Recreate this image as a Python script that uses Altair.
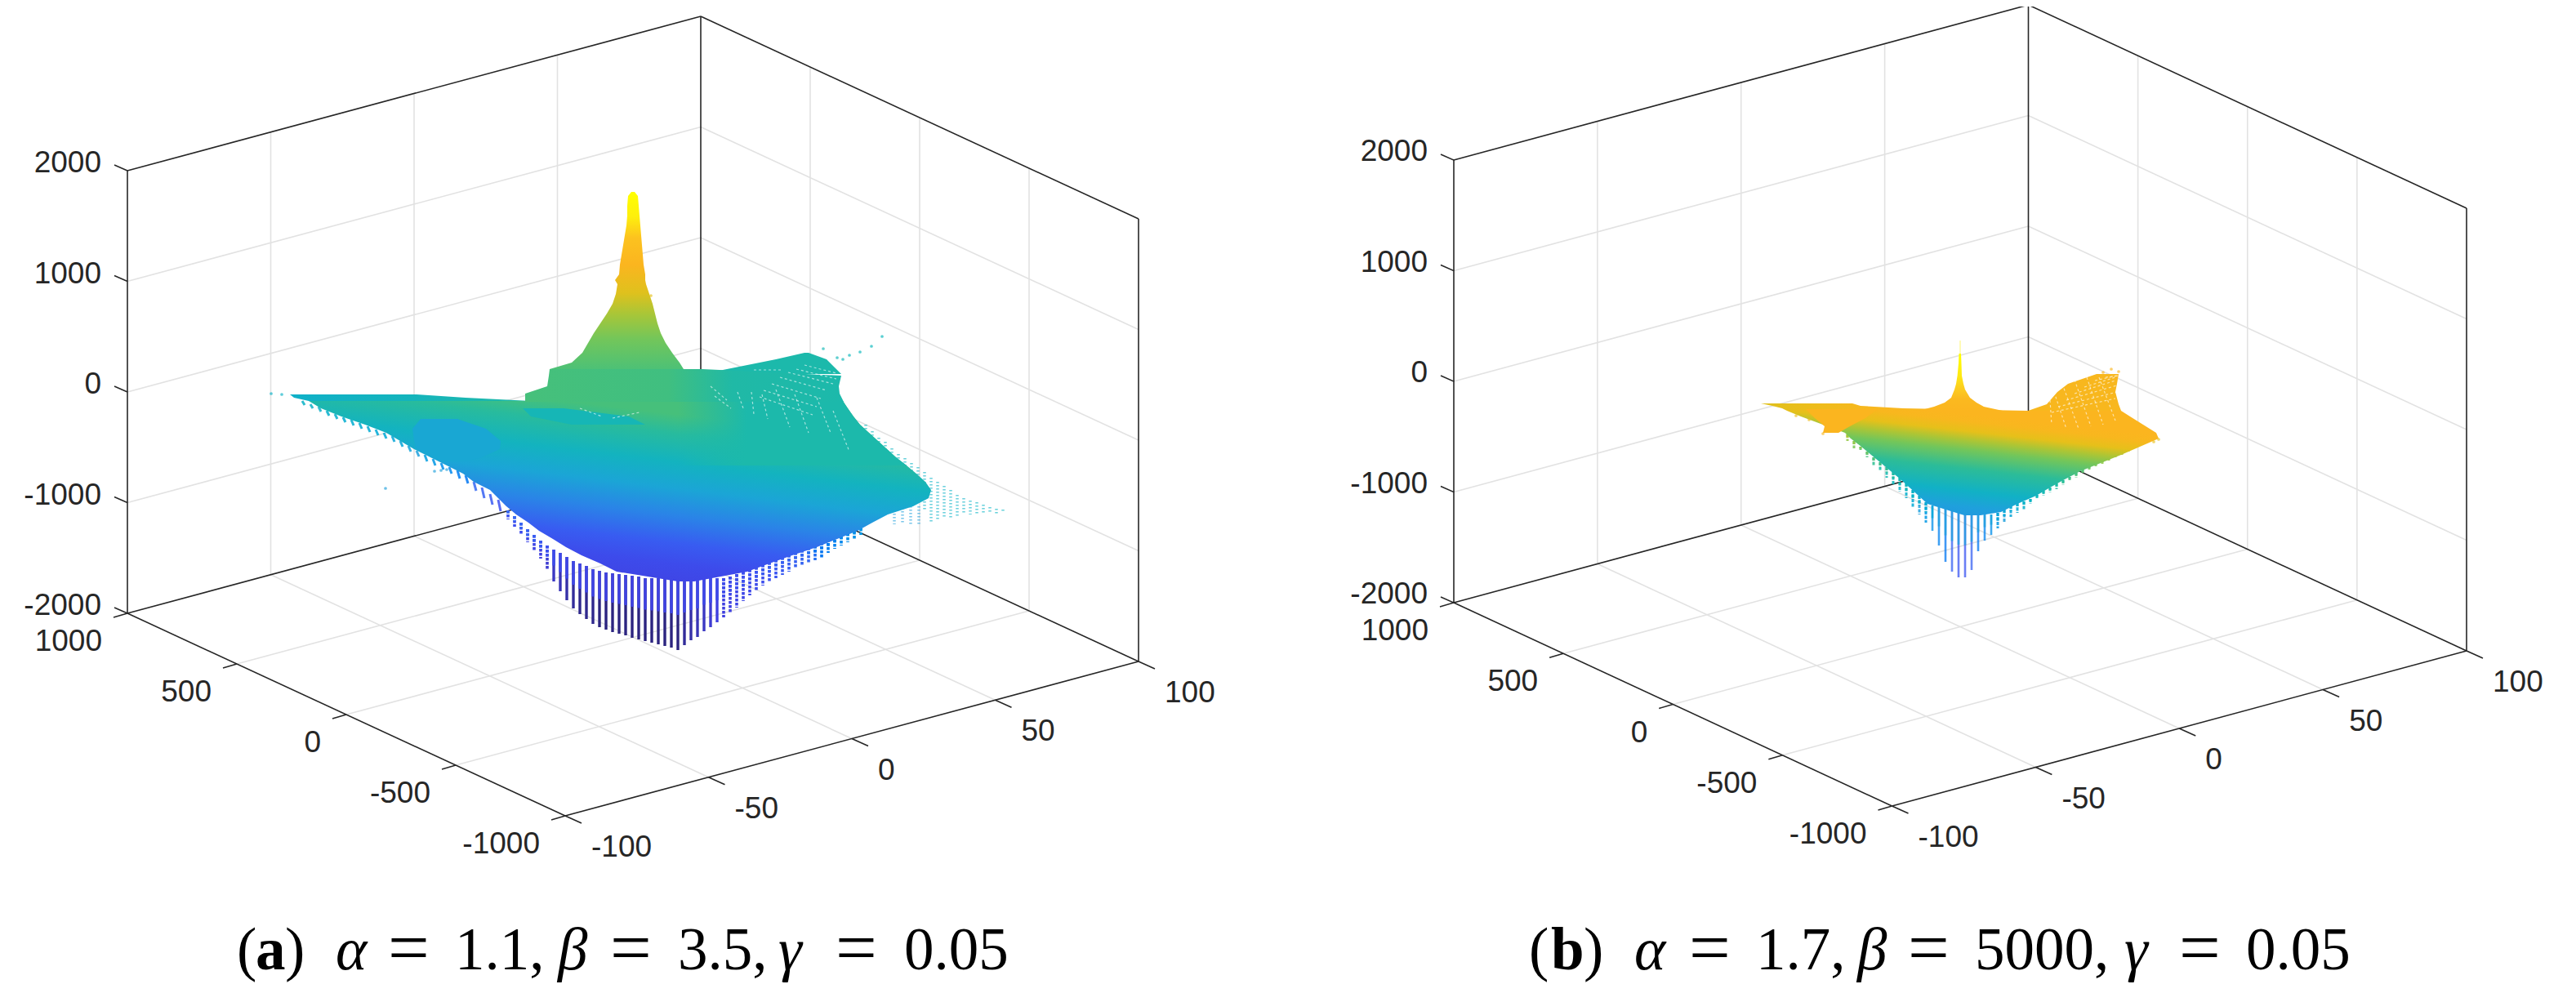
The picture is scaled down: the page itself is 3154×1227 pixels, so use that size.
import altair as alt
import pandas as pd

# ---------- colour map (parula, as seen in the picture)
LEVEL_STOPS = [0, .07, .14, .2, .3, .37, .45, .55, .65, .73, .8, .87, .95, 1]
LEVEL_COLORS = ['#2c2480', '#4040e0', '#3c50f0', '#3568f2', '#1fa0dc', '#10b0c8', '#18b8b0',
                '#40bf80', '#80c850', '#b5c530', '#e6c01a', '#fbb51f', '#fdd820', '#ffff00']

# ---------- axes
X_TICKS = [-100, -50, 0, 50, 100]
Y_TICKS = [-1000, -500, 0, 500, 1000]
Z_TICKS = [-2000, -1000, 0, 1000, 2000]

# view anchor of each panel: front floor corner, x edge, y edge, z height
VIEW_A = dict(fx=692, fy=999, xx=702, xy=-189, yx=-536, yy=-248, zz=542, zoff=-9)
VIEW_B = dict(fx=2316.5, fy=987, xx=703.5, xy=-190, yx=-536.5, yy=-249, zz=542, zoff=-10)


def project(v, x, y, z):
    a = (x + 100) / 200
    b = (y + 1000) / 2000
    c = (z + 2000) / 4000
    return v['fx'] + a * v['xx'] + b * v['yx'], v['fy'] + a * v['xy'] + b * v['yy'] - c * v['zz']


def seg(rows, v, p, q):
    x0, y0 = project(v, *p)
    x1, y1 = project(v, *q)
    rows.append(dict(x=x0, y=y0, x2=x1, y2=y1))


grid_rows, frame_rows, tick_rows, label_rows = [], [], [], []
for v in (VIEW_A, VIEW_B):
    for t in X_TICKS[1:-1]:
        seg(grid_rows, v, (t, 1000, -2000), (t, 1000, 2000))
        seg(grid_rows, v, (t, -1000, -2000), (t, 1000, -2000))
    for t in Y_TICKS[1:-1]:
        seg(grid_rows, v, (100, t, -2000), (100, t, 2000))
        seg(grid_rows, v, (-100, t, -2000), (100, t, -2000))
    for t in Z_TICKS[1:-1]:
        seg(grid_rows, v, (-100, 1000, t), (100, 1000, t))
        seg(grid_rows, v, (100, 1000, t), (100, -1000, t))
    for p, q in [((-100, 1000, -2000), (-100, 1000, 2000)), ((-100, 1000, 2000), (100, 1000, 2000)),
                 ((100, 1000, 2000), (100, -1000, 2000)), ((100, -1000, 2000), (100, -1000, -2000)),
                 ((100, 1000, 2000), (100, 1000, -2000)), ((-100, 1000, -2000), (-100, -1000, -2000)),
                 ((-100, -1000, -2000), (100, -1000, -2000)), ((-100, 1000, -2000), (100, 1000, -2000)),
                 ((100, 1000, -2000), (100, -1000, -2000))]:
        seg(frame_rows, v, p, q)
    for t in X_TICKS:
        sx, sy = project(v, t, -1000, -2000)
        tick_rows.append(dict(x=sx, y=sy, x2=sx + 20, y2=sy + 9))
        label_rows.append(dict(x=sx + 32, y=sy + 39, t=str(t), a='left'))
    for t in Y_TICKS:
        sx, sy = project(v, -100, t, -2000)
        tick_rows.append(dict(x=sx, y=sy, x2=sx - 17, y2=sy + 5))
        label_rows.append(dict(x=sx - 31, y=sy + 35, t=str(t), a='right'))
    for t in Z_TICKS:
        sx, sy = project(v, -100, 1000, t)
        tick_rows.append(dict(x=sx, y=sy, x2=sx - 16, y2=sy - 7))
        label_rows.append(dict(x=sx - 32, y=sy + v['zoff'], t=str(t), a='right'))

# ---------- panel (a): surface silhouette, view units
A_SPIKE_Y = [235, 240, 252, 264, 276, 288, 300, 312, 324, 336, 343, 348, 360, 372, 384, 396, 408, 420, 432, 444, 452]
A_SPIKE_L = [773, 769, 768, 768, 767, 765, 763, 761, 759, 758, 753, 756, 754, 750, 743, 735, 727, 720, 713, 700, 673]
A_SPIKE_R = [777, 781, 782, 783, 784, 785, 786, 787, 788, 790, 790, 791, 795, 799, 802, 805, 809, 815, 823, 832, 837]
A_SPIKE_T = [0, .14, .26, .41, .57, .69, .83, 1]
A_SPIKE_LV = [1, .98, .9, .87, .79, .71, .63, .57]

A_NECK_Y = [452, 460, 473, 482, 492]
A_NECK_L = [673, 672, 670, 643, 643]
A_NECK_R = [860, 1030, 1027, 1028, 1033]
A_NECK_T = [0, .45, .65, 1]
A_NECK_LV = [.56, .55, .47, .46]

A_WINGR_Y = [432, 440, 450, 458]
A_WINGR_L = [985, 950, 900, 860]
A_WINGR_R = [990, 1012, 1022, 1030]
A_WINGR_LV = [.46, .46, .47]

A_WINGL_Y = [483, 487, 491]
A_WINGL_L = [355, 360, 378]
A_WINGL_R = [510, 570, 650]
A_WINGL_T = [0, .5, 1]
A_WINGL_LV = [.37, .41, .47]

A_BODY_Y = [491, 500, 510, 520, 530, 540, 550, 560, 570, 580, 590, 600, 610, 620, 630, 640, 650, 660, 670, 680, 690, 700, 712]
A_BODY_L = [378, 393, 418, 447, 473, 490, 507, 527, 547, 567, 580, 600, 610, 620, 632, 647, 660, 677, 693, 712, 735, 755, 830]
A_BODY_R = [1032, 1038, 1045, 1053, 1064, 1075, 1086, 1097, 1110, 1122, 1133, 1140, 1137, 1118, 1087, 1068, 1050, 1025, 1000, 970, 942, 915, 850]
A_BODY_T = [0, .09, .225, .352, .48, .61, .71, .80, 1]
A_BODY_LV = [.56, .49, .40, .32, .25, .17, .12, .09, .05]

# teal upper right of the body, fading to the left
A_TEAL_Y = [491, 500, 510, 520, 530, 540, 550, 560, 570]
A_TEAL_L = [830, 830, 830, 830, 830, 830, 830, 830, 830]
A_TEAL_R = [1032, 1038, 1045, 1053, 1064, 1075, 1086, 1097, 1110]
A_TEAL_LV = .46

A_LOBE_Y = [513, 525, 540, 550, 560, 565]
A_LOBE_L = [515, 505, 507, 510, 530, 545]
A_LOBE_R = [560, 595, 613, 612, 590, 570]
A_LOBE_LV = [.33, .33, .33, .33, .33]

A_SHADE_Y = [500, 510, 520]
A_SHADE_L = [640, 650, 700]
A_SHADE_R = [690, 770, 790]
A_SHADE_LV = [.43, .43]

# lower fringe of panel (a): one column of dots per grid line
A_COL_X = [622, 630, 638, 646, 654, 662, 670, 678, 686, 694, 702, 710, 718, 726, 734, 742, 750, 758, 766, 774, 782, 790,
           798, 806, 814, 822, 830, 838, 846, 854, 862, 870, 878, 886, 894, 902, 910, 918, 926, 934, 942, 950, 958, 966,
           974, 982, 990, 998, 1006, 1014, 1022, 1030, 1038, 1046, 1054]
A_COL_TOP = [625, 632, 640, 648, 655, 662, 668, 673, 677, 682, 687, 690, 693, 697, 699, 701, 702, 703, 704, 705, 706, 708,
             708, 708, 709, 709, 710, 710, 710, 710, 708, 708, 708, 708, 706, 703, 700, 697, 694, 691, 688, 685, 682, 679,
             676, 673, 670, 668, 664, 660, 656, 652, 648, 646, 642]
A_COL_TIP = [636, 645, 655, 664, 674, 684, 697, 712, 724, 735, 745, 752, 758, 764, 768, 771, 774, 776, 778, 781, 783, 785,
             787, 789, 791, 793, 796, 790, 784, 780, 773, 768, 762, 756, 750, 744, 736, 729, 723, 717, 712, 708, 704, 700,
             696, 693, 689, 686, 683, 677, 672, 668, 664, 660, 655]
A_COL_LV_TOP = [.2, .2, .19, .18, .17, .16, .14, .12, .11, .1, .1, .09, .09, .09, .08, .08, .08, .08, .08, .08, .08, .08,
                .08, .08, .08, .09, .09, .09, .1, .1, .1, .11, .11, .12, .12, .13, .14, .14, .15, .16, .17, .18, .18, .19,
                .2, .2, .21, .22, .22, .23, .24, .25, .25, .26, .27]
A_COL_LV_TIP = [.14, .13, .12, .1, .09, .07, .06, .05, .04, .03, .02, .01, .01, .01, 0, 0, 0, 0, 0, 0, 0, 0,
                0, 0, 0, 0, 0, .02, .03, .04, .05, .06, .07, .07, .08, .09, .1, .11, .12, .13, .14, .15, .16, .17,
                .18, .19, .2, .21, .22, .23, .24, .25, .26, .27, .28]

A_EDGE_X = [370, 380, 390, 400, 410, 420, 430, 440, 450, 460, 470, 480, 490, 500, 510, 520, 530, 540, 550, 560, 570, 580, 590, 600, 610]
A_EDGE_TOP = [491, 495, 498, 503, 507, 511, 514, 518, 522, 526, 530, 534, 540, 546, 552, 557, 562, 567, 572, 576, 582, 590, 597, 605, 612]
A_EDGE_TIP = [496, 500, 504, 509, 513, 517, 521, 525, 529, 533, 537, 541, 547, 553, 559, 565, 570, 575, 580, 586, 592, 601, 610, 618, 626]
A_EDGE_LV = [.38, .37, .37, .36, .36, .35, .35, .34, .34, .33, .33, .32, .32, .31, .30, .29, .28, .26, .25, .23, .22, .20, .18, .16, .14]

# speckled right tail of panel (a)
A_TAIL_X = [1060, 1068, 1076, 1084, 1092, 1100, 1108, 1116, 1124, 1132, 1140, 1148, 1156, 1164, 1172, 1180, 1188, 1196, 1204, 1212, 1220, 1228,
            1095, 1105, 1115, 1125]
A_TAIL_TOP = [520, 528, 536, 541, 549, 556, 561, 567, 572, 578, 585, 590, 595, 600, 606, 610, 613, 615, 618, 621, 623, 624,
              625, 622, 620, 620]
A_TAIL_TIP = [545, 552, 560, 566, 572, 580, 586, 592, 600, 625, 640, 636, 634, 634, 632, 630, 630, 630, 630, 629, 629, 628,
              642, 642, 642, 642]
A_TAIL_LV = [.42, .42, .41, .41, .40, .40, .39, .39, .38, .38, .38, .38, .38, .38, .38, .38, .38, .39, .39, .39, .40, .40,
             .3, .3, .3, .3]

# loose points of panel (a)
A_DOT_X = [1080, 1067, 1053, 1040, 1032, 1025, 1008, 472, 332, 345, 532, 540, 547, 797]
A_DOT_Y = [412, 424, 431, 435, 440, 438, 427, 598, 482, 483, 577, 576, 575, 362]
A_DOT_LV = [.42, .42, .42, .42, .43, .43, .44, .3, .38, .38, .3, .3, .3, .8]

# thin open lines through the sparse part of the surface (a)
A_GAP_X = [955, 965, 975, 985, 945, 935, 930, 903, 920, 933, 950, 973, 1000, 1020, 870, 875, 923, 710, 750]
A_GAP_Y = [462, 456, 452, 447, 470, 478, 486, 480, 480, 483, 477, 483, 487, 503, 473, 485, 453, 500, 512]
A_GAP_X2 = [1012, 1020, 1024, 1024, 1005, 1000, 995, 910, 923, 940, 967, 990, 1017, 1040, 890, 895, 957, 737, 783]
A_GAP_Y2 = [478, 470, 464, 457, 488, 498, 508, 500, 507, 513, 523, 530, 530, 553, 490, 500, 453, 510, 505]

# ---------- panel (b)
B_SPIKE_Y = [433, 445, 460, 470, 477, 487, 493, 498, 503]
B_SPIKE_L = [2398.5, 2398, 2396.6, 2395, 2393, 2389, 2381, 2368, 2349]
B_SPIKE_R = [2401, 2401.5, 2402, 2404, 2406, 2412, 2420, 2429, 2452]
B_SPIKE_T = [0, .4, .62, .8, 1]
B_SPIKE_LV = [1, .97, .92, .88, .87]

B_WINGL_Y = [494, 497, 500, 503]
B_WINGL_L = [2156, 2170, 2182, 2188]
B_WINGL_R = [2268, 2278, 2330, 2483]
B_WINGL_T = [0, .18, .4, 1]
B_WINGL_LV = [.79, .82, .86, .87]

B_HUMP_Y = [458, 470, 480, 495, 503]
B_HUMP_L = [2567, 2532, 2519, 2506, 2483]
B_HUMP_R = [2594, 2592, 2590, 2594, 2597]
B_HUMP_LV = [.86, .86, .86, .86]

B_BODY_Y = [503, 510, 520, 530, 537, 547, 557, 567, 577, 587, 597, 607, 617, 627, 631]
B_BODY_L = [2188, 2205, 2232, 2259, 2266, 2279, 2291, 2303, 2315, 2327, 2338, 2349, 2360, 2392, 2405]
B_BODY_R = [2597, 2608, 2624, 2640, 2643, 2620, 2597, 2572, 2547, 2528, 2510, 2493, 2470, 2450, 2425]
B_BODY_T = [0, .058, .139, .21, .294, .449, .631, .766, 1]
B_BODY_LV = [.87, .86, .80, .72, .63, .50, .38, .30, .26]

B_FOOT_Y = [501, 512, 522, 530]
B_FOOT_L = [2211, 2222, 2234, 2232]
B_FOOT_R = [2299, 2284, 2265, 2251]
B_FOOT_LV = [.87, .87, .87]

B_COL_X = [2262, 2270, 2278, 2286, 2294, 2302, 2310, 2318, 2326, 2334, 2342, 2350, 2358, 2366, 2374, 2382, 2390, 2398, 2406,
           2414, 2422, 2430, 2438, 2446, 2454, 2462, 2470, 2478, 2486, 2494, 2502, 2510, 2518, 2526, 2534, 2542, 2550, 2558,
           2566, 2574, 2582, 2590, 2598, 2606, 2614, 2622, 2630]
B_COL_TOP = [532, 540, 547, 553, 560, 566, 572, 578, 585, 592, 600, 607, 615, 619, 621, 623, 625, 627, 628,
             629, 629, 629, 630, 628, 624, 619, 616, 614, 611, 606, 601, 597, 592, 588, 584, 579, 575, 571,
             567, 564, 560, 556, 553, 549, 545, 541, 537]
B_COL_TIP = [540, 549, 552, 560, 570, 577, 585, 594, 602, 610, 622, 630, 640, 650, 668, 688, 700, 707, 707,
             698, 675, 662, 655, 647, 640, 633, 628, 624, 617, 611, 607, 603, 599, 594, 589, 585, 580, 576,
             572, 568, 565, 561, 558, 553, 550, 546, 542]
B_COL_LV_TOP = [.72, .68, .66, .62, .58, .56, .53, .5, .47, .44, .4, .38, .35, .33, .3, .3, .3, .3, .3,
                .3, .3, .3, .31, .32, .33, .34, .36, .38, .4, .42, .44, .46, .48, .5, .53, .55, .57, .6,
                .62, .64, .66, .68, .7, .72, .74, .76, .78]
B_COL_LV_TIP = [.68, .64, .6, .56, .52, .48, .44, .42, .38, .36, .33, .3, .28, .26, .24, .22, .18, .15, .15,
                .18, .22, .24, .26, .28, .3, .32, .34, .36, .38, .42, .45, .48, .5, .53, .56, .58, .6, .63,
                .65, .67, .69, .7, .72, .74, .76, .78, .8]

B_DOT_X = [2594, 2585, 2575, 2232, 2240, 2199, 2215, 2643, 2637]
B_DOT_Y = [455, 452, 456, 531, 528, 509, 514, 538, 541]
B_DOT_LV = [.87, .87, .87, .86, .86, .82, .83, .8, .8]

B_GAP_X = [2512, 2520, 2530, 2540, 2552, 2565, 2578, 2510, 2515, 2525, 2540, 2555, 2570]
B_GAP_Y = [505, 498, 490, 482, 474, 466, 462, 490, 480, 470, 465, 462, 462]
B_GAP_X2 = [2590, 2592, 2592, 2590, 2590, 2592, 2594, 2512, 2530, 2545, 2560, 2575, 2590]
B_GAP_Y2 = [488, 480, 472, 466, 462, 460, 460, 520, 525, 525, 522, 520, 515]

# ---------- captions
CAP_PLAIN = ['(', ')', '1.1,', '3.5,', '0.05', '(', ')', '1.7,', '5000,', '0.05']
CAP_PLAIN_X = [290, 349, 557, 830, 1107, 1872, 1939, 2150, 2418, 2750]
CAP_EQUAL = ['=', '=', '=', '=', '=', '=']
CAP_EQUAL_X = [475, 747, 1023, 2068, 2336, 2668]
CAP_BOLD, CAP_BOLD_X = ['a', 'b'], [313, 1899]
CAP_ITAL = ['α', 'β', 'γ', 'α', 'β', 'γ']
CAP_ITAL_X = [411, 683, 953, 2001, 2274, 2601]
CAPTION_BASE = 1187

# ---------- tables


def mix(level, alpha=1.0):
    """Colour of a level on the parula ramp, used for the gradient stops."""
    for k in range(len(LEVEL_STOPS) - 1):
        a, b = LEVEL_STOPS[k], LEVEL_STOPS[k + 1]
        if a <= level <= b:
            f = (level - a) / (b - a)
            c0, c1 = LEVEL_COLORS[k], LEVEL_COLORS[k + 1]
            rgb = [round(int(c0[i:i + 2], 16) * (1 - f) + int(c1[i:i + 2], 16) * f) for i in (1, 3, 5)]
            return f'rgba({rgb[0]},{rgb[1]},{rgb[2]},{alpha})'
    return LEVEL_COLORS[-1]


def grad(ts, lvs, x1=0.5, y1=0.0, x2=0.5, y2=1.0):
    return alt.Gradient(gradient='linear', x1=x1, y1=y1, x2=x2, y2=y2,
                        stops=[alt.GradientStop(offset=t, color=mix(l)) for t, l in zip(ts, lvs)])


def shape(ys, ls, rs):
    return pd.DataFrame({'y': ys, 'x': ls, 'x2': rs})


def area(ys, ls, rs, fill):
    return alt.Chart(shape(ys, ls, rs)).mark_area(orient='horizontal', color=fill, strokeWidth=0).encode(
        x=X_ENC, x2=alt.X2('x2:Q'), y=Y_ENC)


def columns(xs, tops, tips, lv_top, lv_tip):
    rows = []
    for x, t, b, l0, l1 in zip(xs, tops, tips, lv_top, lv_tip):
        rows.append(dict(x=x, x2=x, y=t, y2=b, level=l1))
        rows.append(dict(x=x, x2=x, y=t, y2=(t + b) / 2, level=l0))
    return rows


cols_a = columns(A_COL_X, A_COL_TOP, A_COL_TIP, A_COL_LV_TOP, A_COL_LV_TIP)
cols_b = columns(B_COL_X, B_COL_TOP, B_COL_TIP, B_COL_LV_TOP, B_COL_LV_TIP)
cols_mid_a = [r for r in cols_a if 670 < r['x'] < 880]
cols_side_a = [r for r in cols_a if not 670 < r['x'] < 880]
cols_mid_b = [r for r in cols_b if 2360 < r['x'] < 2440]
cols_side_b = [r for r in cols_b if not 2360 < r['x'] < 2440]
edge_a = [dict(x=x, x2=x + 3, y=t, y2=b, level=l) for x, t, b, l in zip(A_EDGE_X, A_EDGE_TOP, A_EDGE_TIP, A_EDGE_LV)]
tail_a = [dict(x=x, x2=x, y=t, y2=b, level=l) for x, t, b, l in zip(A_TAIL_X, A_TAIL_TOP, A_TAIL_TIP, A_TAIL_LV)]
dots = [dict(x=x, y=y, level=l) for x, y, l in zip(A_DOT_X + B_DOT_X, A_DOT_Y + B_DOT_Y, A_DOT_LV + B_DOT_LV)]
gaps = [dict(x=a, y=b, x2=c, y2=d) for a, b, c, d in zip(A_GAP_X + B_GAP_X, A_GAP_Y + B_GAP_Y,
                                                         A_GAP_X2 + B_GAP_X2, A_GAP_Y2 + B_GAP_Y2)]
faint_tip = [dict(x=2400, x2=2400, y=417, y2=433, level=.98)]

# ---------- chart
PX = alt.Scale(domain=[8, 3146], nice=False, zero=False)
PY = alt.Scale(domain=[1219, 8], nice=False, zero=False)
LV = alt.Scale(domain=LEVEL_STOPS, range=LEVEL_COLORS)
X_ENC = alt.X('x:Q', scale=PX, axis=None)
Y_ENC = alt.Y('y:Q', scale=PY, axis=None)
COL = alt.Color('level:Q', scale=LV, legend=None)


def rule_layer(rows, color=None, **mark):
    base = dict(x=X_ENC, y=Y_ENC, x2=alt.X2('x2:Q'), y2=alt.Y2('y2:Q'))
    if color is None:
        base['color'] = COL
    else:
        mark['color'] = color
    return alt.Chart(pd.DataFrame(rows)).mark_rule(**mark).encode(**base)


def caption(texts, xs, size=73, base=CAPTION_BASE, **mark):
    df = pd.DataFrame({'x': xs, 't': texts, 'y': base})
    return alt.Chart(df).mark_text(font='Liberation Serif', fontSize=size, color='black', align='left',
                                   baseline='alphabetic', **mark).encode(x=X_ENC, y=Y_ENC, text='t:N')


teal_fade = alt.Gradient(gradient='linear', x1=0, y1=0.5, x2=1, y2=0.5, stops=[
    alt.GradientStop(offset=0, color=mix(A_TEAL_LV, 0)),
    alt.GradientStop(offset=.3, color=mix(A_TEAL_LV, 1)),
    alt.GradientStop(offset=1, color=mix(A_TEAL_LV, 1))])

labels = pd.DataFrame(label_rows)
layers = [
    rule_layer(grid_rows, color='#e2e2e2', strokeWidth=1.6),
    rule_layer(frame_rows, color='#262626', strokeWidth=1.6),
    rule_layer(tick_rows, color='#262626', strokeWidth=1.6),
    rule_layer(cols_side_a, strokeWidth=3.6, strokeDash=[3.5, 1.5]),
    rule_layer(cols_mid_a, strokeWidth=3.4),
    rule_layer(cols_side_b, strokeWidth=3, strokeDash=[4, 1.5], opacity=0.85),
    rule_layer(cols_mid_b, strokeWidth=2.6, opacity=0.75),
    rule_layer(edge_a, strokeWidth=3, opacity=0.85),
    rule_layer(tail_a, strokeWidth=3.5, strokeDash=[1.5, 2.5], opacity=0.6),
    area(A_WINGR_Y, A_WINGR_L, A_WINGR_R, mix(A_WINGR_LV[0])),
    area(A_WINGL_Y, A_WINGL_L, A_WINGL_R, grad(A_WINGL_T, A_WINGL_LV, 0, 0.5, 1, 0.5)),
    area(A_BODY_Y, A_BODY_L, A_BODY_R, grad(A_BODY_T, A_BODY_LV, 0.41, 0, 0, 1)),
    area(A_TEAL_Y, A_TEAL_L, A_TEAL_R, teal_fade),
    area(A_NECK_Y, A_NECK_L, A_NECK_R, grad(A_NECK_T, A_NECK_LV, 0, 0.5, 1, 0.5)),
    area(A_SPIKE_Y, A_SPIKE_L, A_SPIKE_R, grad(A_SPIKE_T, A_SPIKE_LV)),
    area(A_LOBE_Y, A_LOBE_L, A_LOBE_R, mix(A_LOBE_LV[0])),
    area(A_SHADE_Y, A_SHADE_L, A_SHADE_R, mix(A_SHADE_LV[0])),
    area(B_WINGL_Y, B_WINGL_L, B_WINGL_R, grad(B_WINGL_T, B_WINGL_LV, 0, 0.5, 1, 0.5)),
    area(B_HUMP_Y, B_HUMP_L, B_HUMP_R, mix(B_HUMP_LV[0])),
    area(B_BODY_Y, B_BODY_L, B_BODY_R, grad(B_BODY_T, B_BODY_LV, 0.4, 0, 0, 1)),
    area(B_SPIKE_Y, B_SPIKE_L, B_SPIKE_R, grad(B_SPIKE_T, B_SPIKE_LV)),
    area(B_FOOT_Y, B_FOOT_L, B_FOOT_R, mix(B_FOOT_LV[0])),
    rule_layer(gaps, color='white', strokeWidth=1.2, strokeDash=[3, 3], opacity=0.6),
    rule_layer(faint_tip, strokeWidth=2, opacity=0.3),
    alt.Chart(pd.DataFrame(dots)).mark_circle(size=14, opacity=0.65).encode(x=X_ENC, y=Y_ENC, color=COL),
    alt.Chart(labels[labels.a == 'left']).mark_text(font='Liberation Sans', fontSize=37, color='#262626', align='left',
                                                    baseline='middle').encode(x=X_ENC, y=Y_ENC, text='t:N'),
    alt.Chart(labels[labels.a == 'right']).mark_text(font='Liberation Sans', fontSize=37, color='#262626', align='right',
                                                     baseline='middle').encode(x=X_ENC, y=Y_ENC, text='t:N'),
    caption(CAP_PLAIN, CAP_PLAIN_X),
    caption(CAP_EQUAL, CAP_EQUAL_X, size=90, base=CAPTION_BASE + 4),
    caption(CAP_BOLD, CAP_BOLD_X, fontWeight='bold'),
    caption(CAP_ITAL, CAP_ITAL_X, fontStyle='italic'),
]

chart = alt.layer(*layers).properties(width=3138, height=1211, padding=0,
                                      autosize=alt.AutoSizeParams(type='none')).configure_view(stroke=None)
chart.save("out.html", embed_options={"renderer": "svg", "actions": False})
